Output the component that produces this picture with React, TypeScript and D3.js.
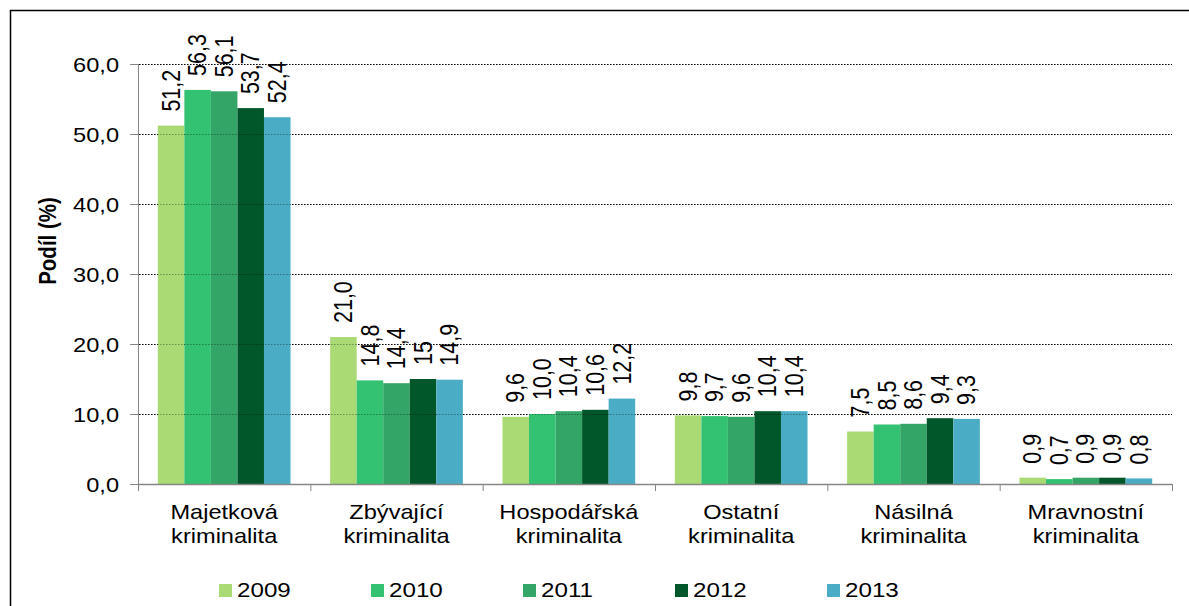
import React from "react"
import * as d3 from "d3"

const W = 1189
const H = 606
const SX = 1.18 // původní graf je vodorovně roztažený

const categories = ["Majetková", "Zbývající", "Hospodářská", "Ostatní", "Násilná", "Mravnostní"]
const years = ["2009", "2010", "2011", "2012", "2013"]

const v2009 = [51.2, 21.0, 9.6, 9.8, 7.5, 0.9]
const v2010 = [56.3, 14.8, 10.0, 9.7, 8.5, 0.7]
const v2011 = [56.1, 14.4, 10.4, 9.6, 8.6, 0.9]
const v2012 = [53.7, 15, 10.6, 10.4, 9.4, 0.9]
const v2013 = [52.4, 14.9, 12.2, 10.4, 9.3, 0.8]
const series = [v2009, v2010, v2011, v2012, v2013]

// hodnoty zobrazené bez desetinného místa
const plainLabels = new Set(["2012|Zbývající"])

const yTicks = [0, 10, 20, 30, 40, 50, 60]
const colors = ["#a9da74", "#33c272", "#33a567", "#02572a", "#4aacc5"]

const FONT = "'Liberation Sans', Arial, sans-serif"

const x0 = 138
const x1 = 1172
const yTop = 64
const yBase = 484

const fmt = (v: number) => v.toFixed(1).replace(".", ",")

export default function App() {
  const x = d3
    .scaleBand<string>()
    .domain(categories)
    .range([x0, x1])
    .paddingInner(0.23)
    .paddingOuter(0.115)
  const step = (x1 - x0) / categories.length
  const xs = d3.scaleBand<string>().domain(years).range([0, x.bandwidth()])
  const y = d3.scaleLinear().domain([0, 60]).range([yBase, yTop])

  const grid = yTicks.filter((t) => t > 0)

  return (
    <svg
      width={W}
      height={H}
      style={{ position: "absolute", left: 0, top: 0, background: "#fff" }}
      fontFamily={FONT}
    >
      <rect x={10.5} y={10.5} width={W + 20} height={H + 20} fill="#fff" stroke="#000" strokeWidth={1.5} />

      {grid.map((t) => (
        <line key={"g" + t} x1={x0 + 1} x2={x1} y1={y(t) + 0.5} y2={y(t) + 0.5} stroke="#000" strokeDasharray="1.5 1.5" />
      ))}

      {categories.map((c, i) => (
        <g key={c}>
          {series.map((s, j) => {
            const bx = (x(c) as number) + (xs(years[j]) as number)
            return (
              <rect
                key={j}
                x={bx}
                y={y(s[i])}
                width={xs.bandwidth()}
                height={yBase - y(s[i])}
                fill={colors[j]}
              />
            )
          })}
        </g>
      ))}

      {grid.map((t) => (
        <line key={"go" + t} x1={x0 + 1} x2={x1} y1={y(t) + 0.5} y2={y(t) + 0.5} stroke="#000" strokeOpacity={0.35} strokeDasharray="1.5 1.5" />
      ))}

      {categories.map((c, i) =>
        series.map((s, j) => {
          const cx = (x(c) as number) + (xs(years[j]) as number) + xs.bandwidth() / 2
          const label = plainLabels.has(years[j] + "|" + c) ? String(s[i]) : fmt(s[i])
          return (
            <text
              key={c + j}
              transform={`translate(${cx},${y(s[i]) - 14}) scale(${SX},1) rotate(-90)`}
              fontSize={21.5}
              dominantBaseline="central"
              fill="#000"
            >
              {label}
            </text>
          )
        })
      )}

      {/* osa Y */}
      <line x1={x0 + 0.5} x2={x0 + 0.5} y1={yTop} y2={yBase} stroke="#868686" />
      {yTicks.map((t) => (
        <g key={"t" + t}>
          <line x1={x0 - 8} x2={x0} y1={y(t) + 0.5} y2={y(t) + 0.5} stroke="#868686" />
          <text
            transform={`translate(${x0 - 19},${y(t) + 1}) scale(${SX},1)`}
            textAnchor="end"
            dominantBaseline="central"
            fontSize={20}
          >
            {fmt(t)}
          </text>
        </g>
      ))}
      <text
        transform={`translate(48,241) scale(${SX},1) rotate(-90)`}
        textAnchor="middle"
        dominantBaseline="central"
        fontSize={20.5}
        fontWeight="bold"
      >
        Podíl (%)
      </text>

      {/* osa X */}
      <line x1={x0} x2={x1} y1={yBase + 0.5} y2={yBase + 0.5} stroke="#868686" strokeWidth={1.5} />
      {d3.range(categories.length + 1).map((k) => (
        <line
          key={"xt" + k}
          x1={x0 + k * step + 0.5}
          x2={x0 + k * step + 0.5}
          y1={yBase}
          y2={yBase + 7}
          stroke="#868686"
        />
      ))}
      {categories.map((c) => {
        const cx = (x(c) as number) + x.bandwidth() / 2
        return (
          <g key={"l" + c} transform={`translate(${cx},0) scale(${SX},1)`}>
            <text x={0} y={519} textAnchor="middle" fontSize={20}>
              {c}
            </text>
            <text x={0} y={543} textAnchor="middle" fontSize={20}>
              kriminalita
            </text>
          </g>
        )
      })}

      {/* legenda */}
      {years.map((yr, j) => {
        const lx = 219 + j * 152
        return (
          <g key={"lg" + yr}>
            <rect x={lx} y={584} width={13} height={13} fill={colors[j]} />
            <text transform={`translate(${lx + 18},597) scale(${SX},1)`} fontSize={20.5}>
              {yr}
            </text>
          </g>
        )
      })}
    </svg>
  )
}
